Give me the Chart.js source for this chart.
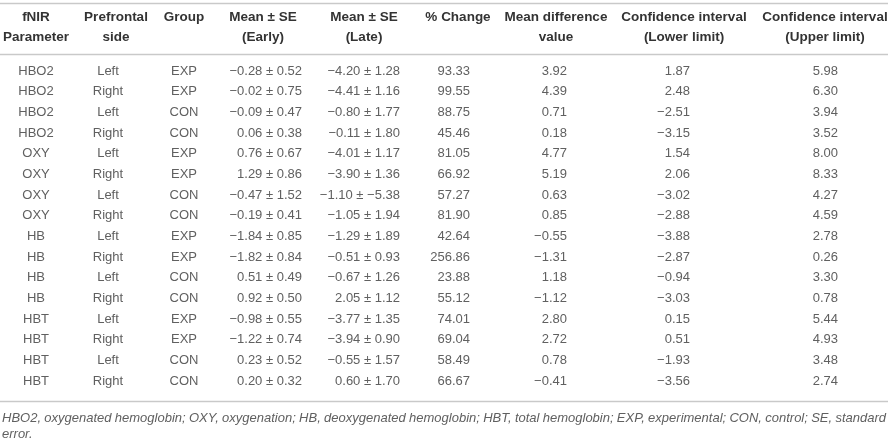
<!DOCTYPE html>
<html>
<head>
<meta charset="utf-8">
<script src="https://cdn.jsdelivr.net/npm/chart.js@4.4.0/dist/chart.umd.min.js"></script>
<style>
  html, body { margin: 0; padding: 0; background: #fff; }
  #wrap { width: 888px; height: 442px; }
</style>
</head>
<body>
<div id="wrap"><canvas id="tbl" width="888" height="442"></canvas></div>
<script>
// Table data
const parameters = ['HBO2', 'HBO2', 'HBO2', 'HBO2', 'OXY', 'OXY', 'OXY', 'OXY',
    'HB', 'HB', 'HB', 'HB', 'HBT', 'HBT', 'HBT', 'HBT'];
const sides = ['Left', 'Right', 'Left', 'Right', 'Left', 'Right', 'Left', 'Right',
    'Left', 'Right', 'Left', 'Right', 'Left', 'Right', 'Left', 'Right'];
const groups = ['EXP', 'EXP', 'CON', 'CON', 'EXP', 'EXP', 'CON', 'CON',
    'EXP', 'EXP', 'CON', 'CON', 'EXP', 'EXP', 'CON', 'CON'];
const earlyMean = [-0.28, -0.02, -0.09, 0.06, 0.76, 1.29, -0.47, -0.19, -1.84, -1.82, 0.51, 0.92, -0.98, -1.22, 0.23, 0.20];
const earlySE = [0.52, 0.75, 0.47, 0.38, 0.67, 0.86, 1.52, 0.41, 0.85, 0.84, 0.49, 0.50, 0.55, 0.74, 0.52, 0.32];
const lateMean = [-4.20, -4.41, -0.80, -0.11, -4.01, -3.90, -1.10, -1.05, -1.29, -0.51, -0.67, 2.05, -3.77, -3.94, -0.55, 0.60];
const lateSE = [1.28, 1.16, 1.77, 1.80, 1.17, 1.36, -5.38, 1.94, 1.89, 0.93, 1.26, 1.12, 1.35, 0.90, 1.57, 1.70];
const pctChange = [93.33, 99.55, 88.75, 45.46, 81.05, 66.92, 57.27, 81.90, 42.64, 256.86, 23.88, 55.12, 74.01, 69.04, 58.49, 66.67];
const meanDiff = [3.92, 4.39, 0.71, 0.18, 4.77, 5.19, 0.63, 0.85, -0.55, -1.31, 1.18, -1.12, 2.80, 2.72, 0.78, -0.41];
const ciLower = [1.87, 2.48, -2.51, -3.15, 1.54, 2.06, -3.02, -2.88, -3.88, -2.87, -0.94, -3.03, 0.15, 0.51, -1.93, -3.56];
const ciUpper = [5.98, 6.30, 3.94, 3.52, 8.00, 8.33, 4.27, 4.59, 2.78, 0.26, 3.30, 0.78, 5.44, 4.93, 3.48, 2.74];

const headers = [
    ['fNIR', 'Parameter'],
    ['Prefrontal', 'side'],
    ['Group'],
    ['Mean \u00b1 SE', '(Early)'],
    ['Mean \u00b1 SE', '(Late)'],
    ['% Change'],
    ['Mean difference', 'value'],
    ['Confidence interval', '(Lower limit)'],
    ['Confidence interval', '(Upper limit)']
];
const footnoteLines = [
    'HBO2, oxygenated hemoglobin; OXY, oxygenation; HB, deoxygenated hemoglobin; ' +
    'HBT, total hemoglobin; EXP, experimental; CON, control; SE, standard',
    'error.'
];

// Layout (pixels along the x scale, row units along the y scale)
const headerX = [36, 116, 184, 263, 364, 458, 556, 684, 825];
const cellX = [36, 108, 184, 302, 400, 470, 567, 690, 838];
const cellAlign = ['center', 'center', 'center', 'right', 'right', 'right', 'right', 'right', 'right'];
const headerRows = [-2.61, -1.64];
const ruleRows = [-3.29, -0.82, 15.97];
const noteRows = [16.8, 17.57];

const textColor = '#606060';
const headColor = '#333333';
const ruleColor = '#c9c9c9';
const bodyFont = '13px "Liberation Sans", Arial, sans-serif';
const headFont = 'bold 13.5px "Liberation Sans", Arial, sans-serif';
const noteFont = 'italic 13px "Liberation Sans", Arial, sans-serif';

function fmt(v) {
    return (v < 0 ? '\u2212' : '') + Math.abs(v).toFixed(2);
}
function pm(m, s) {
    return fmt(m) + ' \u00b1 ' + fmt(s);
}

const columns = [
    parameters,
    sides,
    groups,
    earlyMean.map((m, i) => pm(m, earlySE[i])),
    lateMean.map((m, i) => pm(m, lateSE[i])),
    pctChange.map(fmt),
    meanDiff.map(fmt),
    ciLower.map(fmt),
    ciUpper.map(fmt)
];

const datasets = columns.map((col, c) => ({
    label: headers[c].join(' '),
    data: col.map((_, i) => ({ x: cellX[c], y: i })),
    cellText: col,
    cellAlign: cellAlign[c],
    pointRadius: 0,
    showLine: false
}));

// Dessin du tableau
const tablePlugin = {
    id: 'tablePlugin',
    afterDatasetsDraw(chart) {
        const ctx = chart.ctx;
        const xs = chart.scales.x;
        const ys = chart.scales.y;
        const area = chart.chartArea;
        ctx.save();

        // rules
        ctx.strokeStyle = ruleColor;
        ctx.lineWidth = 1.5;
        ruleRows.forEach(r => {
            const y = Math.round(ys.getPixelForValue(r)) + 0.5;
            ctx.beginPath();
            ctx.moveTo(area.left, y);
            ctx.lineTo(area.right, y);
            ctx.stroke();
        });

        // header
        ctx.font = headFont;
        ctx.fillStyle = headColor;
        ctx.textAlign = 'center';
        ctx.textBaseline = 'middle';
        headers.forEach((lines, c) => {
            lines.forEach((t, k) => {
                ctx.fillText(t, xs.getPixelForValue(headerX[c]), ys.getPixelForValue(headerRows[k]));
            });
        });

        // cells
        ctx.font = bodyFont;
        ctx.fillStyle = textColor;
        chart.data.datasets.forEach((ds, di) => {
            const meta = chart.getDatasetMeta(di);
            ctx.textAlign = ds.cellAlign;
            meta.data.forEach((pt, i) => {
                ctx.fillText(ds.cellText[i], pt.x, pt.y);
            });
        });

        // footnote, first line justified
        ctx.font = noteFont;
        ctx.textAlign = 'left';
        const left = area.left + 2;
        const maxW = area.right - 2 - left;
        footnoteLines.forEach((line, k) => {
            const y = ys.getPixelForValue(noteRows[k]);
            const ln = line.split(' ');
            if (k < footnoteLines.length - 1 && ln.length > 1) {
                const wordsW = ln.reduce((s, w) => s + ctx.measureText(w).width, 0);
                const gap = (maxW - wordsW) / (ln.length - 1);
                let x = left;
                ln.forEach(w => {
                    ctx.fillText(w, x, y);
                    x += ctx.measureText(w).width + gap;
                });
            } else {
                ctx.fillText(line, left, y);
            }
        });
        ctx.restore();
    }
};

new Chart(document.getElementById('tbl'), {
    type: 'scatter',
    data: { datasets: datasets },
    options: {
        responsive: false,
        animation: false,
        events: [],
        layout: { padding: 0 },
        plugins: {
            legend: { display: false },
            tooltip: { enabled: false }
        },
        scales: {
            x: { type: 'linear', display: false, min: 0, max: 888 },
            y: { type: 'linear', display: false, reverse: true, min: -3.435, max: 17.95 }
        }
    },
    plugins: [tablePlugin]
});
</script>
</body>
</html>
